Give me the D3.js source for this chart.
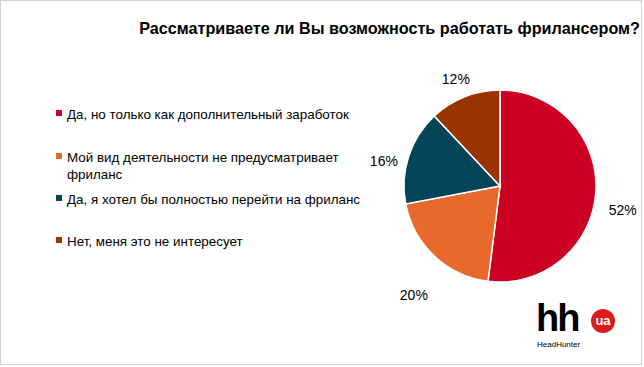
<!DOCTYPE html>
<html>
<head>
<meta charset="utf-8">
<script src="https://cdn.jsdelivr.net/npm/d3@7"></script>
<style>
  body { margin: 0; background: #fff; }
  text { font-family: "Liberation Sans", Arial, sans-serif; }
</style>
</head>
<body>
<svg id="chart"></svg>
<script>
const title = "Рассматриваете ли Вы возможность работать фрилансером?";
const categories = [
  "Да, но только как дополнительный заработок",
  "Мой вид деятельности не предусматривает фриланс",
  "Да, я хотел бы полностью перейти на фриланс",
  "Нет, меня это не интересует"
];
const values = [52, 20, 16, 12];
const colors = ["#cc0022", "#e8692b", "#034556", "#993300"];

const W = 644, H = 367;
const svg = d3.select("#chart")
  .attr("width", W)
  .attr("height", H);

// frame
svg.append("rect")
  .attr("x", 0.5).attr("y", 0.5)
  .attr("width", W - 3).attr("height", H - 3)
  .attr("fill", "#fff")
  .attr("stroke", "#d0d0d0");

svg.append("text")
  .attr("x", 640)
  .attr("y", 34)
  .attr("text-anchor", "end")
  .style("font-size", "16.2px")
  .style("font-weight", "bold")
  .attr("fill", "#000")
  .text(title);

// pie
const cx = 500, cy = 186, r = 96;
const pie = d3.pie().sort(null).value(d => d);
const arcs = pie(values);
const arc = d3.arc().innerRadius(0).outerRadius(r);
const labelArc = d3.arc().innerRadius(r + 24).outerRadius(r + 24);
// small nudges so the labels sit where Excel's best-fit put them
const labelNudge = [[3, 17], [-4, 22], [-2, 12], [0, 5]];

const g = svg.append("g")
  .attr("transform", "translate(" + cx + "," + cy + ")");

g.selectAll("path")
  .data(arcs)
  .join("path")
    .attr("d", arc)
    .attr("fill", (d, i) => colors[i])
    .attr("stroke", "#fff")
    .attr("stroke-width", 1.5);

g.selectAll(".lbl")
  .data(arcs)
  .join("text")
    .attr("class", "lbl")
    .attr("transform", (d, i) => {
      const c = labelArc.centroid(d);
      return "translate(" + (c[0] + labelNudge[i][0]) + "," + (c[1] + labelNudge[i][1]) + ")";
    })
    .attr("text-anchor", "middle")
    .attr("dy", "0.35em")
    .style("font-size", "14px")
    .attr("fill", "#000")
    .text(d => d.data + "%");

// legend
const legendY = d3.scaleOrdinal()
  .domain(categories)
  .range([114, 157, 199, 241]);
const wrap = {1: ["Мой вид деятельности не предусматривает", "фриланс"]};

const legend = svg.selectAll(".legend")
  .data(categories)
  .join("g")
    .attr("class", "legend")
    .attr("transform", d => "translate(56," + legendY(d) + ")");

legend.append("rect")
  .attr("x", 0).attr("y", -4)
  .attr("width", 6).attr("height", 6)
  .attr("fill", (d, i) => colors[i]);

legend.append("text")
  .style("font-size", "13.4px")
  .attr("fill", "#000")
  .each(function(d, i) {
    const lines = wrap[i] || [d];
    d3.select(this).selectAll("tspan")
      .data(lines)
      .join("tspan")
        .attr("x", 11)
        .attr("dy", (l, j) => j === 0 ? "0.35em" : "17")
        .text(l => l);
  });

// logo
const logo = svg.append("g").attr("transform", "translate(536,332)");
logo.append("text")
  .attr("x", 0).attr("y", -1)
  .style("font-size", "38px")
  .style("font-weight", "bold")
  .style("letter-spacing", "-2px")
  .attr("fill", "#000")
  .text("hh");
logo.append("text")
  .attr("x", 1).attr("y", 15)
  .style("font-size", "8px")
  .attr("fill", "#000")
  .text("HeadHunter");
logo.append("circle")
  .attr("cx", 67).attr("cy", -11)
  .attr("r", 12)
  .attr("fill", "#dd1b1b");
logo.append("text")
  .attr("x", 67).attr("y", -7)
  .attr("text-anchor", "middle")
  .style("font-size", "13px")
  .style("font-weight", "bold")
  .attr("fill", "#fff")
  .text("ua");
</script>
</body>
</html>
